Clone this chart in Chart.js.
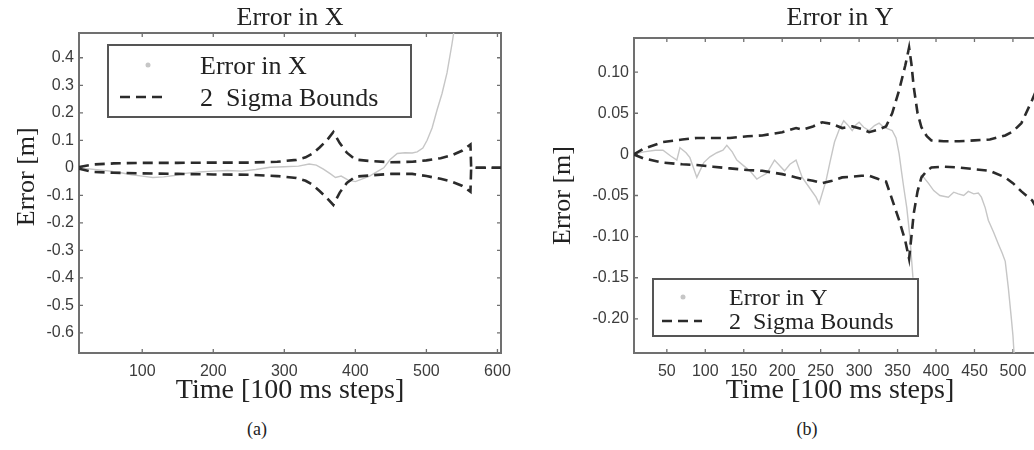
<!DOCTYPE html>
<html>
<head>
<meta charset="utf-8">
<title>Error in X / Error in Y</title>
<script src="https://cdn.jsdelivr.net/npm/chart.js@4.4.1/dist/chart.umd.min.js"></script>
<style>
  html, body { margin: 0; padding: 0; background: #fff; }
  body { width: 1034px; height: 450px; overflow: hidden; position: relative; }
  #chartX { position: absolute; left: 0; top: 0; }
  #chartY { position: absolute; left: 520px; top: 0; }
  .cap { position: absolute; top: 419px; width: 60px; margin-left: -30px; text-align: center;
         font: 18px "Liberation Serif", "Times New Roman", serif; color: #222; }
</style>
</head>
<body>
<canvas id="chartX" width="520" height="406"></canvas>
<canvas id="chartY" width="560" height="406"></canvas>
<div class="cap" style="left:257px">(a)</div>
<div class="cap" style="left:807px">(b)</div>
<script>
// (a) error in X, time in 100 ms steps
const stepsX = [11, 25, 40, 55, 70, 85, 100, 115, 130, 145, 160, 180, 200, 220, 240, 260, 280, 300, 320, 335,
  345, 355, 365, 372, 380, 390, 400, 410, 420, 430, 440, 449, 459, 470, 480, 487, 495, 501, 508, 515, 522, 529, 536, 542];
const errorX = [0, -0.004, -0.008, -0.012, -0.018, -0.025, -0.03, -0.035, -0.033, -0.028, -0.02, -0.015, -0.012, -0.01,
  -0.012, -0.006, 0.002, 0.004, 0.006, 0.014, 0.01, -0.005, -0.022, -0.035, -0.03, -0.045, -0.05, -0.04, -0.03, -0.015,
  0, 0.03, 0.052, 0.055, 0.054, 0.058, 0.072, 0.1, 0.145, 0.21, 0.27, 0.345, 0.45, 0.55];
const sigmaStepsX = [11, 30, 60, 100, 150, 200, 250, 290, 317, 330, 340, 350, 360, 369, 378, 388, 400, 420, 450, 480,
  500, 520, 535, 550, 562, 563, 605];
const sigmaUpX = [0.003, 0.012, 0.016, 0.018, 0.018, 0.019, 0.019, 0.022, 0.029, 0.038, 0.052, 0.075, 0.1, 0.13, 0.09,
  0.055, 0.03, 0.025, 0.02, 0.022, 0.027, 0.035, 0.045, 0.062, 0.085, 0, 0];
const sigmaLoX = [-0.003, -0.015, -0.018, -0.02, -0.022, -0.024, -0.025, -0.03, -0.037, -0.047, -0.062, -0.085, -0.11,
  -0.135, -0.09, -0.055, -0.032, -0.028, -0.022, -0.022, -0.03, -0.04, -0.05, -0.065, -0.087, 0, 0];
const xTicksA = [100, 200, 300, 400, 500, 600];
const yTicksA = [0.4, 0.3, 0.2, 0.1, 0, -0.1, -0.2, -0.3, -0.4, -0.5, -0.6];
const yLabelsA = ['0.4', '0.3', '0.2', '0.1', '0', '-0.1', '-0.2', '-0.3', '-0.4', '-0.5', '-0.6'];

// (b) error in Y
const stepsY = [7, 20, 35, 45, 55, 63, 67, 75, 80, 89, 98, 106, 115, 123, 128, 135, 141, 150, 158, 167,
  174, 180, 190, 203, 210, 218, 226, 235, 244, 248, 257, 262, 268, 274, 280, 286, 291, 296, 300, 306,
  313, 320, 326, 331, 335, 340, 343, 348, 352, 355, 358, 362, 366, 370, 375, 380, 384, 390, 397, 405,
  416, 423, 429, 436, 442, 449, 455, 459, 464, 468, 475, 481, 486, 490, 494, 498, 500, 502];
const errorY = [0, 0.003, 0.005, 0.005, -0.002, -0.007, 0.008, 0.002, -0.004, -0.028,
  -0.01, -0.003, 0.002, 0.005, 0.011, 0.003, -0.007, -0.014, -0.02, -0.03,
  -0.026, -0.023, -0.007, -0.02, -0.012, -0.007, -0.028, -0.04, -0.052, -0.06,
  -0.032, -0.01, 0.015, 0.03, 0.041, 0.035, 0.029, 0.036, 0.039, 0.033,
  0.029, 0.035, 0.038, 0.034, 0.032, 0.03, 0.029, 0.02, 0.001, -0.02,
  -0.04, -0.065, -0.1, -0.15, null, -0.025, -0.028, -0.035, -0.044, -0.05,
  -0.052, -0.046, -0.048, -0.05, -0.045, -0.048, -0.047, -0.052, -0.065, -0.08,
  -0.095, -0.109, -0.12, -0.13, -0.162, -0.2, -0.22, -0.25];
const sigmaStepsY = [7, 20, 45, 70, 89, 110, 132, 155, 174, 200, 218, 226, 240, 252, 265, 278, 291, 303, 313, 325,
  335, 343, 352, 360, 365, 368, 371, 376, 381, 388, 394, 410, 430, 450, 470, 490, 500, 511, 525, 540, 555];
const sigmaUpY = [0, 0.007, 0.015, 0.018, 0.02, 0.02, 0.02, 0.022, 0.023, 0.027, 0.032, 0.03, 0.034, 0.039, 0.037,
  0.032, 0.034, 0.031, 0.027, 0.03, 0.034, 0.05, 0.078, 0.108, 0.13, 0.11, 0.082, 0.05, 0.033, 0.022,
  0.017, 0.016, 0.016, 0.017, 0.018, 0.023, 0.028, 0.038, 0.066, 0.1, 0.14];
const sigmaLoY = [0, -0.005, -0.01, -0.012, -0.013, -0.015, -0.017, -0.019, -0.02, -0.024, -0.028, -0.03, -0.032,
  -0.035, -0.032, -0.028, -0.027, -0.026, -0.026, -0.03, -0.033, -0.055, -0.08, -0.105, -0.127, -0.1, -0.072,
  -0.045, -0.028, -0.02, -0.016, -0.015, -0.016, -0.018, -0.02, -0.028, -0.035, -0.045, -0.056, -0.08, -0.11];
const xTicksB = [50, 100, 150, 200, 250, 300, 350, 400, 450, 500];
const yTicksB = [0.1, 0.05, 0, -0.05, -0.1, -0.15, -0.2];
const yLabelsB = ['0.10', '0.05', '0', '-0.05', '-0.10', '-0.15', '-0.20'];

const serif = "'Liberation Serif', 'Times New Roman', serif";
const sans = "'Liberation Sans', Arial, sans-serif";
const pts = (xs, ys) => xs.map((x, i) => ({ x: x, y: ys[i] }));

// axis box with small inward ticks on all four sides
const framePlugin = {
  id: 'frame',
  beforeDatasetsDraw(chart) {
    const { ctx, chartArea: a, scales: { x, y } } = chart;
    ctx.save();
    ctx.strokeStyle = '#707070';
    ctx.lineWidth = 1.3;
    ctx.beginPath();
    x.ticks.forEach(t => {
      const px = x.getPixelForValue(t.value);
      ctx.moveTo(px, a.bottom); ctx.lineTo(px, a.bottom - 4);
      ctx.moveTo(px, a.top); ctx.lineTo(px, a.top + 4);
    });
    y.ticks.forEach(t => {
      const py = y.getPixelForValue(t.value);
      ctx.moveTo(a.left, py); ctx.lineTo(a.left + 4, py);
      ctx.moveTo(a.right, py); ctx.lineTo(a.right - 4, py);
    });
    ctx.stroke();
    ctx.lineWidth = 2;
    ctx.strokeRect(a.left, a.top, a.right - a.left, a.bottom - a.top);
    ctx.restore();
  }
};

// boxed legend inside the plot
const boxLegend = {
  id: 'boxLegend',
  afterDraw(chart, args, o) {
    const { ctx, chartArea: a } = chart;
    const bx = a.left + o.left, by = a.top + o.top;
    const rows = chart.data.datasets.filter(d => d.label)
      .sort((p, q) => (p.borderDash ? 1 : 0) - (q.borderDash ? 1 : 0));
    ctx.save();
    ctx.fillStyle = '#fff';
    ctx.fillRect(bx, by, o.width, o.height);
    ctx.strokeStyle = '#555';
    ctx.lineWidth = 2;
    ctx.strokeRect(bx, by, o.width, o.height);
    rows.forEach((d, i) => {
      const ry = by + o.rowY[i];
      if (d.borderDash) {
        ctx.strokeStyle = d.borderColor;
        ctx.lineWidth = d.borderWidth;
        ctx.setLineDash(d.borderDash);
        ctx.beginPath();
        ctx.moveTo(bx + o.lineX[0], ry);
        ctx.lineTo(bx + o.lineX[1], ry);
        ctx.stroke();
        ctx.setLineDash([]);
      } else {
        ctx.fillStyle = d.borderColor;
        ctx.beginPath();
        ctx.arc(bx + o.markX, ry, 2.5, 0, Math.PI * 2);
        ctx.fill();
      }
      ctx.fillStyle = '#222';
      ctx.font = o.size + 'px ' + serif;
      ctx.textBaseline = 'middle';
      ctx.fillText(d.label, bx + o.textX, ry + 2);
    });
    ctx.restore();
  }
};

function errorChart(id, cfg) {
  const dashed = { borderColor: '#2b2b2b', borderWidth: 2.6, borderDash: [10, 6], pointRadius: 0, tension: 0 };
  return new Chart(document.getElementById(id), {
    type: 'line',
    data: {
      datasets: [
        Object.assign({ label: '2  Sigma Bounds', data: pts(cfg.sigmaSteps, cfg.sigmaUp) }, dashed),
        Object.assign({ label: '', data: pts(cfg.sigmaSteps, cfg.sigmaLo) }, dashed),
        { label: cfg.label, data: pts(cfg.steps, cfg.error), borderColor: '#c6c6c6', borderWidth: 1.4,
          pointRadius: 0, tension: 0, spanGaps: false }
      ]
    },
    options: {
      responsive: false,
      animation: false,
      layout: { padding: { left: 0, right: cfg.padRight, top: 0, bottom: 0 } },
      plugins: {
        legend: { display: false },
        tooltip: { enabled: false },
        title: {
          display: true, text: cfg.label, fullSize: false, color: '#222',
          font: { family: serif, size: 26, weight: 'normal', lineHeight: 1.1 },
          padding: cfg.titlePad
        },
        boxLegend: cfg.legend
      },
      scales: {
        x: {
          type: 'linear', min: cfg.xMin, max: cfg.xMax,
          grid: { display: false, drawTicks: false }, border: { display: false },
          afterBuildTicks: s => { s.ticks = cfg.xTicks.map(v => ({ value: v })); },
          afterFit: s => { s.height = 53; },
          ticks: { color: '#3c3c3c', font: { family: sans, size: 16 }, padding: 9, maxRotation: 0, autoSkip: false },
          title: { display: true, text: 'Time [100 ms steps]', color: '#222',
                   font: { family: serif, size: 28, lineHeight: 1.1 }, padding: 0 }
        },
        y: {
          type: 'linear', min: cfg.yMin, max: cfg.yMax,
          grid: { display: false, drawTicks: false }, border: { display: false },
          afterBuildTicks: s => { s.ticks = cfg.yTicks.map(v => ({ value: v })); },
          afterFit: s => { s.width = cfg.yWidth; },
          ticks: { color: '#3c3c3c', font: { family: sans, size: 16 }, padding: 5, autoSkip: false,
                   callback: v => cfg.yLabels[cfg.yTicks.indexOf(v)] },
          title: { display: true, text: cfg.yTitle, color: '#222',
                   font: { family: serif, size: 26, lineHeight: 1.1 }, padding: { top: cfg.yTitlePad, bottom: 0 } }
        }
      }
    },
    plugins: [framePlugin, boxLegend]
  });
}

errorChart('chartX', {
  label: 'Error in X', steps: stepsX, error: errorX,
  sigmaSteps: sigmaStepsX, sigmaUp: sigmaUpX, sigmaLo: sigmaLoX,
  xMin: 11, xMax: 605, yMin: -0.673, yMax: 0.49,
  xTicks: xTicksA, yTicks: yTicksA, yLabels: yLabelsA,
  yWidth: 79, padRight: 19, titlePad: { top: 4, bottom: 0.4 },
  yTitle: '     Error [m]', yTitlePad: 12.7,
  legend: { left: 29, top: 12, width: 303, height: 72, rowY: [20, 52], markX: 40, lineX: [12, 57], textX: 92, size: 26 }
});

errorChart('chartY', {
  label: 'Error in Y', steps: stepsY, error: errorY,
  sigmaSteps: sigmaStepsY, sigmaUp: sigmaUpY, sigmaLo: sigmaLoY,
  xMin: 7.3, xMax: 543, yMin: -0.2415, yMax: 0.1415,
  xTicks: xTicksB, yTicks: yTicksB, yLabels: yLabelsB,
  yWidth: 114, padRight: 34, titlePad: { top: 4, bottom: 5.4 },
  yTitle: 'Error [m]', yTitlePad: 28.7,
  legend: { left: 19, top: 241, width: 265, height: 57, rowY: [18, 42], markX: 30, lineX: [9, 49], textX: 76, size: 24 }
});
</script>
</body>
</html>
